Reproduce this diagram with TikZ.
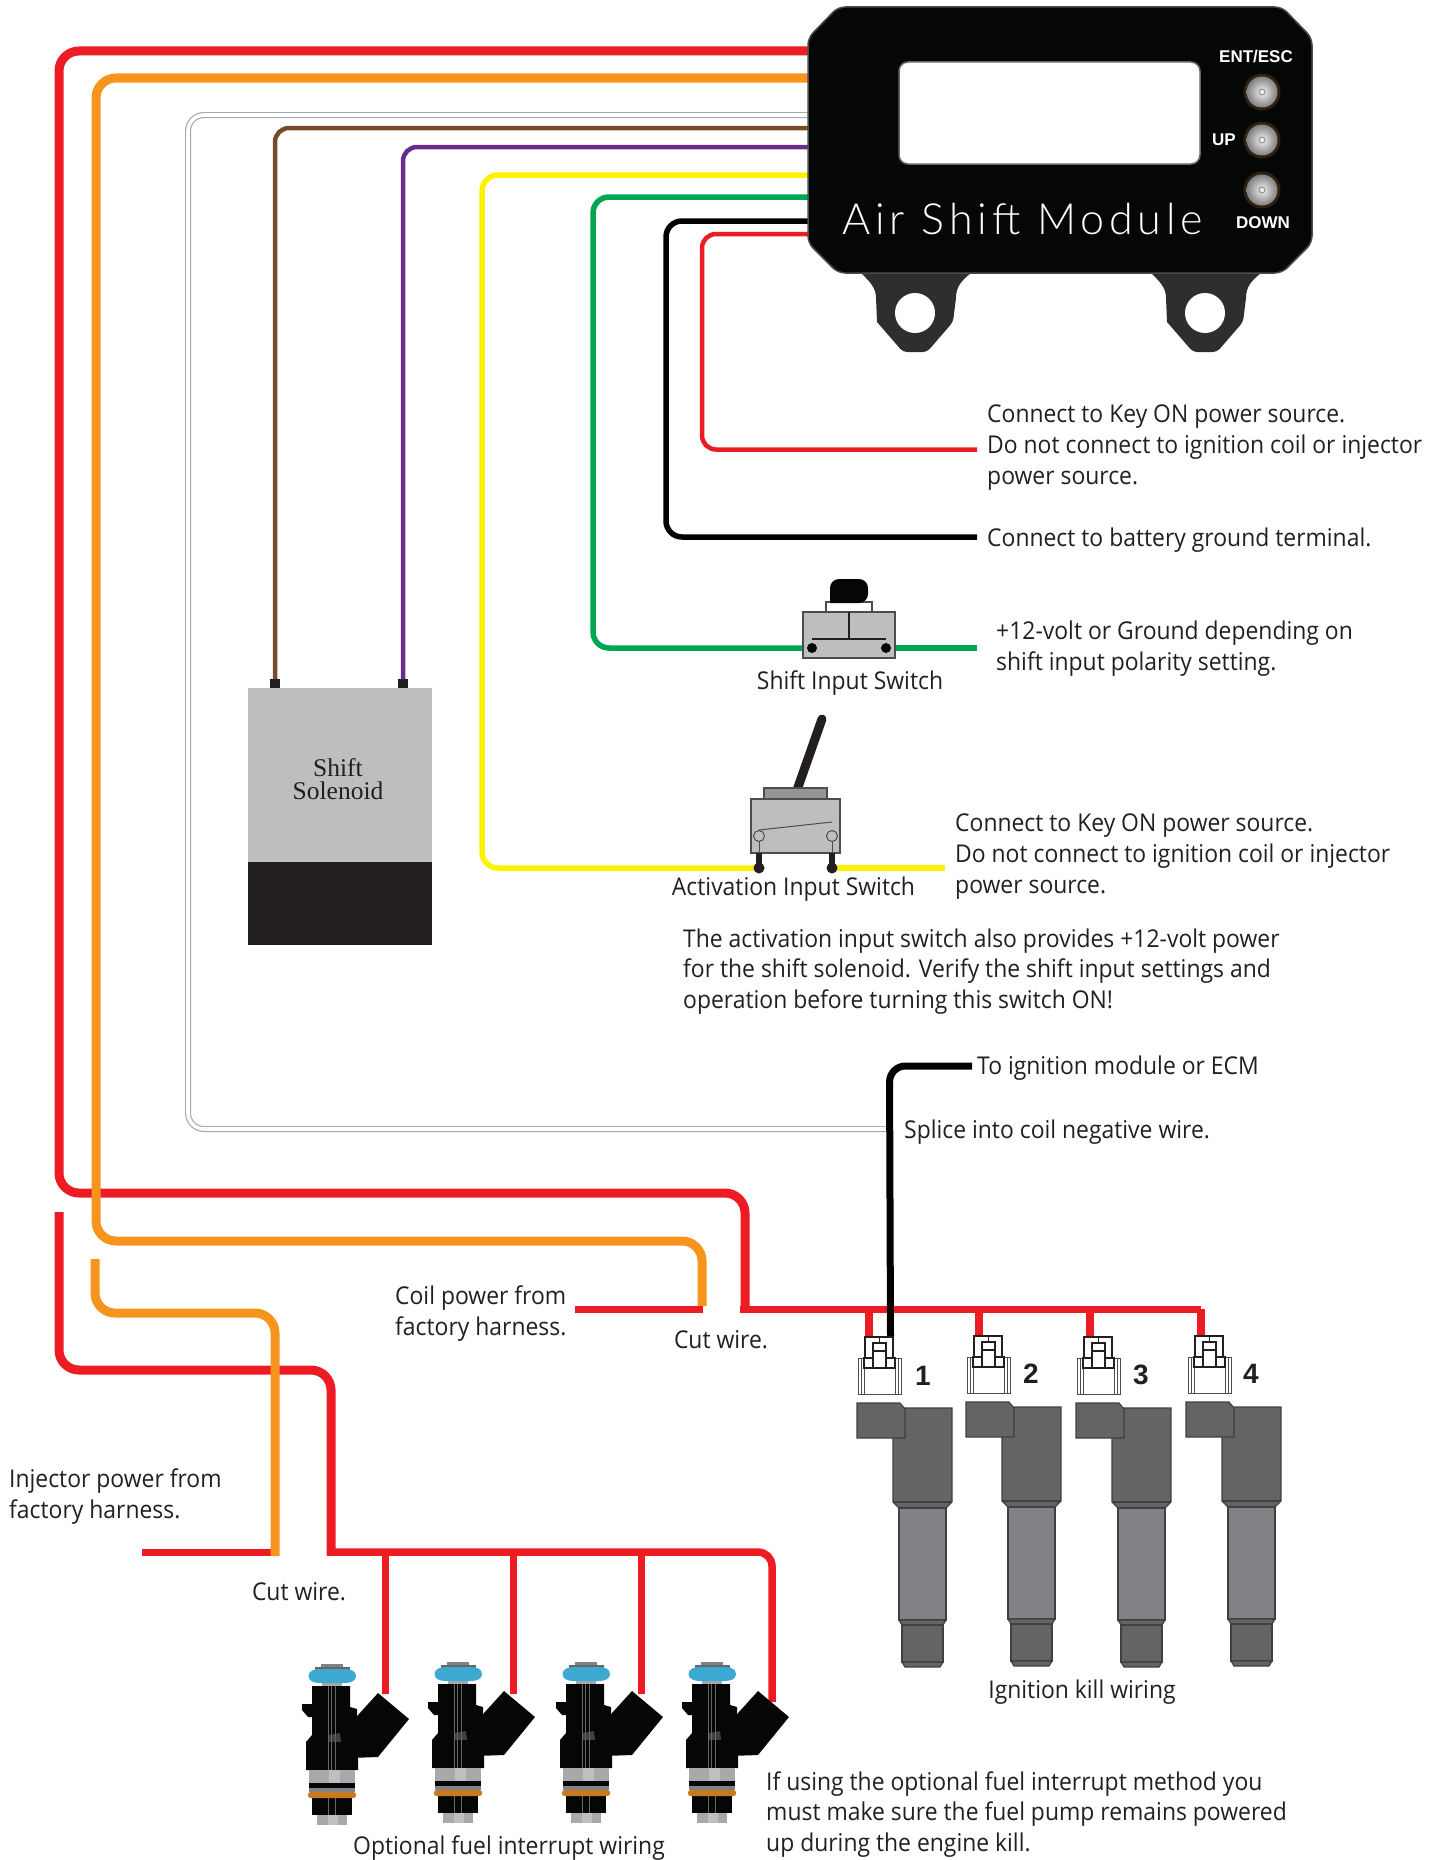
\documentclass[tikz,border=0pt]{standalone}
\usepackage{fontspec}
\setmainfont[FakeStretch=0.935]{Open Sans}
\newfontfamily\arialf{Liberation Sans}
\newfontfamily\timesf{Liberation Serif}
\newfontfamily\modf[LetterSpace=11.5]{Lato Light}
\definecolor{wred}{HTML}{ED1C24}
\definecolor{worange}{HTML}{F7941E}
\definecolor{wbrown}{HTML}{754C29}
\definecolor{wpurple}{HTML}{662D91}
\definecolor{wyellow}{HTML}{FFF200}
\definecolor{wgreen}{HTML}{00A651}
\definecolor{wgrey}{HTML}{A7A9AC}
\definecolor{darkg}{HTML}{636466}
\definecolor{midg}{HTML}{808285}
\definecolor{lightg}{HTML}{BCBEC0}
\definecolor{inkk}{HTML}{231F20}
\definecolor{modblack}{HTML}{050606}
\definecolor{tabg}{HTML}{2E2E30}
\definecolor{blue1}{HTML}{3CA9D3}
\definecolor{ring}{HTML}{C87A22}
\tikzset{
 heavy/.style={line width=9pt,rounded corners=20pt},
 medium/.style={line width=5.5pt,rounded corners=16pt},
 thinw/.style={line width=4.5pt,rounded corners=14pt},
 lbl/.style={font=\fontsize{24.5}{30.8}\selectfont,align=left,inner sep=0pt,text=inkk,yshift=-2.5pt},
 lblw/.style={lbl,anchor=west},
 modlab/.style={font=\arialf\bfseries\fontsize{17}{20}\selectfont,text=white,inner sep=0pt},
 numlab/.style={font=\arialf\bfseries\fontsize{28}{30}\selectfont,text=inkk,inner sep=0pt},
 partbox/.style={fill=lightg,draw=black!70,line width=1.3pt},
 coilpart/.style={fill=darkg,draw=black!75,line width=1.2pt},
 conn/.style={fill=white,draw=inkk,line width=1.5pt},
 connthin/.style={fill=white,draw=black!70,line width=1pt},
 knob/.style={inner color=black!5,outer color=black!50},
 tabshape/.pic={
  \fill[tabg] (-54,-40) .. controls (-46,-32) and (-39,-26) .. (-39,-15) -- (-38,9) {[rounded corners=4pt] -- (-12,39) -- (12,39) -- (38,9)} -- (41,-15) .. controls (41,-26) and (46,-32) .. (56,-40) -- cycle;
  \fill[white] (0,0) circle (20);
 },
 coilunit/.pic={
  \path[coilpart] (36,5)--(95,5)--(95,99)--(89,105)--(42,105)--(36,99)--cycle;
  \draw[black!75,line width=1.2pt] (36,99)--(95,99);
  \path[coilpart,fill=midg] (42,105) rectangle (89,217);
  \path[coilpart] (42,217)--(89,217)--(86,222)--(45,222)--cycle;
  \path[coilpart] (45,222) rectangle (86,259);
  \path[coilpart] (45,259)--(86,259)--(83,264)--(48,264)--cycle;
  \path[coilpart] (0,0)--(43,0)--(48,6)--(48,35)--(0,35)--cycle;
 },
 plugunit/.pic={
  \path[connthin] (-7,21) rectangle (36,57);
  \draw[black!70,line width=.8pt] (-4,21)--(-4,57) (33,21)--(33,57);
  \path[connthin] (-1,31) rectangle (30,57);
  \path[conn] (0,0) rectangle (28,21);
  \path[conn] (-1,21) rectangle (8,31);
  \path[conn] (21,21) rectangle (30,31);
  \path[conn] (8,6) rectangle (21,31);
  \draw[inkk,line width=1.2pt] (8,14)--(21,14) (14.5,0)--(14.5,6);
 },
 injunit/.pic={
  \fill[midg] (-11,-12) rectangle (11,-8);
  \fill[black!60] (-17,-9) rectangle (18,-6);
  \fill[wgrey] (-10,6) rectangle (10,11);
  \fill[modblack] (46,17)--(77,43)--(46,81)--(18,82)--(12,76)--(12,59)--(26,39)--cycle;
  \fill[modblack] (-20,10)--(18,10)--(18,31)--(25,33)--(25,59)--(26,66)--(26,94)--(-26,94)--(-26,66)--(-20,59)--(-20,41)--(-24,41)--(-30,34)--(-30,28)--(-20,28)--cycle;
  \fill[black!75] (-3,59) -- (8,57) -- (9,66) -- (-3,66) -- cycle;
  \fill[blue1] (-23.5,0) .. controls (-23.5,-5) and (-18,-7) .. (-12,-7) -- (12,-7) .. controls (19,-7) and (24,-5) .. (24,0) .. controls (24,5) and (19,7) .. (12,7) -- (-12,7) .. controls (-18,7) and (-23.5,5) .. (-23.5,0) -- cycle;
  \draw[black!60,line width=.7pt] (-4,10)--(-4,94) (-1,10)--(-1,94) (3,10)--(3,94);
  \fill[wgrey] (-23,94) rectangle (23,107);
  \fill[black!25] (-3,94) rectangle (8,107);
  \fill[modblack] (-23,107) rectangle (23,112);
  \fill[midg] (-23,112) rectangle (23,116);
  \fill[modblack] (-20,122) rectangle (20,139);
  \draw[black!60,line width=.7pt] (-4,122)--(-4,139) (3,122)--(3,139);
  \fill[ring,rounded corners=2.5pt] (-24,116) rectangle (24,122);
  \fill[wgrey] (-15,139) rectangle (15,149);
  \fill[black!25] (-4,139) rectangle (6,149);
 },
}
\begin{document}
\begin{tikzpicture}[x=1pt,y=-1pt]
\useasboundingbox (0,0) rectangle (1447,1860);
% terminals
\coordinate (mA) at (814,51);
\coordinate (mB) at (814,78);
\coordinate (mC) at (814,115);
\coordinate (mD) at (814,128);
\coordinate (mE) at (814,147);
\coordinate (mF) at (814,175);
\coordinate (mG) at (814,197);
\coordinate (mH) at (814,221);
\coordinate (mI) at (814,234);
\coordinate (solA) at (275,684);
\coordinate (solB) at (403,684);
\coordinate (keyA) at (977,449.5);
\coordinate (gnd) at (977,537);
\coordinate (shL) at (810,648);
\coordinate (shR) at (888,648);
\coordinate (shEnd) at (977,648);
\coordinate (acL) at (759,868);
\coordinate (acR) at (832,868);
\coordinate (acEnd) at (945,868);
\coordinate (ecm) at (972,1066);
\coordinate (spl) at (889.5,1129);
\coordinate (p1) at (869,1337);
\coordinate (p1b) at (890.5,1337);
\coordinate (p2) at (979,1337);
\coordinate (p3) at (1090,1337);
\coordinate (p4) at (1201,1309);
\coordinate (busL) at (740,1309);
\coordinate (cutA) at (575,1309);
\coordinate (cutB) at (703,1309);
\coordinate (i1) at (385.5,1694);
\coordinate (i2) at (513.5,1694);
\coordinate (i3) at (641.6,1694);
\coordinate (i4) at (772,1702);
\coordinate (injA) at (142,1552);
\coordinate (injB) at (272,1552);

% wires
\draw[heavy,wred] (mA) -- (59,51) -- (59,1193) -- (745,1193) -- (745,1309);
\draw[heavy,worange] (mB) -- (96,78) -- (96,1241) -- (702,1241) -- (702,1306);
\draw[line width=6pt,wgrey,rounded corners=16pt] (mC) -- (188,115) -- (188,1129) -- (spl);
\draw[line width=3.6pt,white,rounded corners=16pt] (mC) -- (188,115) -- (188,1129) -- (spl);
\draw[thinw,wbrown] (mD) -- (275,128) -- (solA);
\draw[thinw,wpurple] (mE) -- (403,147) -- (solB);
\draw[medium,wyellow] (mF) -- (482,175) -- (482,868) -- (acL);
\draw[medium,wyellow,rounded corners=0pt] (acR) -- (acEnd);
\draw[medium,wgreen] (mG) -- (593,197) -- (593,648) -- (shL);
\draw[medium,wgreen,rounded corners=0pt] (shR) -- (shEnd);
\draw[medium,black] (mH) -- (666,221) -- (666,537) -- (gnd);
\draw[thinw,wred] (mI) -- (702,234) -- (702,449.5) -- (keyA);
\draw[line width=7pt,wred] (busL) -- (p4);
\draw[line width=7pt,wred] (cutA) -- (cutB);
\draw[line width=7.5pt,wred] (p1 |- busL) -- (p1);
\draw[line width=7.5pt,wred] (p2 |- busL) -- (p2);
\draw[line width=7.5pt,wred] (p3 |- busL) -- (p3);
\draw[line width=7.5pt,wred] (p4) -- (p4 |- p3);
\draw[line width=7pt,black,rounded corners=16pt] (ecm) -- (889.5,1066) -- (p1b);
\draw[heavy,wred] (59,1212) -- (59,1370) -- (331,1370) -- (331,1555);
\draw[line width=7.5pt,wred,rounded corners=14pt] (327,1552) -- (772,1552) -- (i4);
\draw[line width=7.5pt,wred] (i1 |- injA) -- (i1);
\draw[line width=7.5pt,wred] (i2 |- injA) -- (i2);
\draw[line width=7.5pt,wred] (i3 |- injA) -- (i3);
\draw[line width=7pt,wred] (injA) -- (injB);
\draw[heavy,worange] (95,1259) -- (95,1313) -- (275,1313) -- (275,1556);

% module
\pic (tabL) at (915,313) {tabshape};
\pic (tabR) at (1205,313) {tabshape};
\path[fill=modblack,draw=black!70,line width=1.5pt,rounded corners=7pt] (808,38)--(838,7)--(1282,7)--(1312,38)--(1312,243)--(1282,273)--(838,273)--(808,243)--cycle;
\path[fill=white,draw=black!60,line width=1.5pt,rounded corners=9pt] (899,62) rectangle (1200,164);
\node[font=\modf\fontsize{43}{46}\selectfont,text=white,inner sep=0pt,anchor=base west] (modname) at (842,234) {Air Shift Module};
\node[modlab] (entl) at (1256,57) {ENT/ESC};
\node[modlab] (upl) at (1224,140) {UP};
\node[modlab] (downl) at (1263,223) {DOWN};
\foreach \yy in {92,140,190}{
 \fill[black!75!brown] (1262,\yy) circle (18.5);
 \shade[knob] (1262,\yy) circle (15.5);
 \draw[black!50,line width=.7pt] (1262,\yy) circle (3);
}

% solenoid
\fill[inkk] (270,679) rectangle (280,690);
\fill[inkk] (398,679) rectangle (408,690);
\fill[lightg] (248,688) rectangle (432,862);
\fill[inkk] (248,862) rectangle (432,945);
\node[font=\timesf\fontsize{25.5}{23}\selectfont,align=center,inner sep=0pt,text=inkk] (sol) at (338,779) {Shift\\Solenoid};

% shift input switch
\path[partbox] (803,612) rectangle (895,658);
\path[fill=white,draw=black!70,line width=1.2pt] (826,602) rectangle (872,612);
\fill[modblack] (830,603) {[rounded corners=9pt] -- (830,579) -- (868,579) -- (868,603)} -- cycle;
\draw[inkk,line width=1.2pt] (849,612)--(849,639) (812,639)--(886,639);
\fill[modblack] (shL)++(2,0) circle (5);
\fill[modblack] (shR)++(-2,0) circle (5);

% activation input switch
\draw[inkk,line width=9pt,line cap=round] (797,790)--(822,719);
\path[partbox,fill=midg!85] (764,788) rectangle (827,799);
\path[partbox] (751,799) rectangle (840,853);
\draw[black!70,line width=1pt] (759,830)--(832,822);
\draw[black!70,line width=1pt,fill=lightg] (759,836) circle (5.5);
\draw[black!70,line width=1pt,fill=lightg] (832,836) circle (5.5);
\draw[black!70,line width=1pt] (759,842)--(759,853) (832,842)--(832,853);
\draw[inkk,line width=6pt] (759,853)--(acL) (832,853)--(acR);
\fill[inkk] (acL) circle (5.5);
\fill[inkk] (acR) circle (5.5);

% coils
\pic (c1) at (857,1403) {coilunit};
\pic (c2) at (966,1402) {coilunit};
\pic (c3) at (1076,1403) {coilunit};
\pic (c4) at (1186,1402) {coilunit};
\pic (k1) at (865,1337) {plugunit};
\pic (k2) at (974,1336) {plugunit};
\pic (k3) at (1084,1337) {plugunit};
\pic (k4) at (1195,1336) {plugunit};
\node[numlab] (n1) at (923,1376) {1};
\node[numlab] (n2) at (1031,1374) {2};
\node[numlab] (n3) at (1141,1375) {3};
\node[numlab] (n4) at (1251,1374) {4};

% injectors
\pic (j1) at (332,1676) {injunit};
\pic (j2) at (458,1674) {injunit};
\pic (j3) at (586,1674) {injunit};
\pic (j4) at (712,1674) {injunit};

% labels
\node[lblw] (tA) at (987,445) {Connect to Key ON power source.\\Do not connect to ignition coil or injector\\power source.};
\node[lblw] (tB) at (987,538) {Connect to battery ground terminal.};
\node[lblw] (tC) at (996,646) {+12-volt or Ground depending on\\shift input polarity setting.};
\node[lbl] (tD) at (850,681) {Shift Input Switch};
\node[lbl] (tE) at (793.5,887) {Activation Input Switch};
\node[lblw] (tF) at (955,854) {Connect to Key ON power source.\\Do not connect to ignition coil or injector\\power source.};
\node[lblw] (tG) at (683,969) {The activation input switch also provides +12-volt power\\for the shift solenoid. Verify the shift input settings and\\operation before turning this switch ON!};
\node[lblw] (tH) at (977,1066) {To ignition module or ECM};
\node[lblw] (tI) at (904,1130) {Splice into coil negative wire.};
\node[lblw] (tJ) at (395,1311) {Coil power from\\factory harness.};
\node[lbl] (tK) at (721,1337) {Cut wire.};
\node[lblw] (tL) at (9,1494) {Injector power from\\factory harness.};
\node[lbl] (tM) at (299,1589) {Cut wire.};
\node[lbl] (tN) at (1082,1690) {Ignition kill wiring};
\node[lbl] (tO) at (509,1846) {Optional fuel interrupt wiring};
\node[lblw] (tP) at (766,1812) {If using the optional fuel interrupt method you\\must make sure the fuel pump remains powered\\up during the engine kill.};
\end{tikzpicture}
\end{document}
